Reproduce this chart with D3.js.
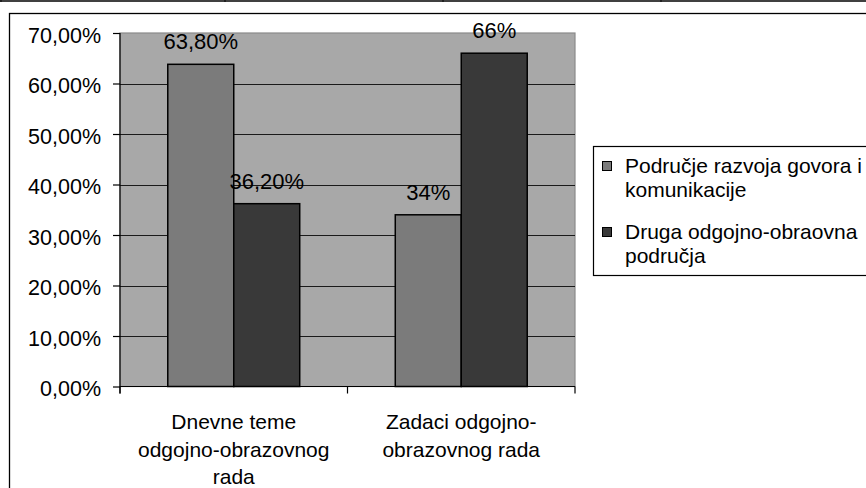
<!DOCTYPE html>
<html>
<head>
<meta charset="utf-8">
<script src="https://cdn.jsdelivr.net/npm/d3@7"></script>
<style>
  html, body { margin: 0; padding: 0; background: #fff; }
  svg { display: block; }
  text { font-family: "Liberation Sans", Arial, sans-serif; fill: #000; }
</style>
</head>
<body>
<svg id="chart" width="866" height="488"></svg>
<script>
// ---- data ----
const categories = [
  ["Dnevne teme", "odgojno-obrazovnog", "rada"],
  ["Zadaci odgojno-", "obrazovnog rada"]
];
const categoryKeys = ["Dnevne teme odgojno-obrazovnog rada", "Zadaci odgojno-obrazovnog rada"];
const seriesNames = ["Područje razvoja govora i komunikacije", "Druga odgojno-obraovna područja"];
const legendLines = [["Područje razvoja govora i", "komunikacije"], ["Druga odgojno-obraovna", "područja"]];
const seriesA = [63.8, 34];   // Područje razvoja govora i komunikacije
const seriesB = [36.2, 66];   // Druga odgojno-obraovna područja
const labelsA = ["63,80%", "34%"];
const labelsB = ["36,20%", "66%"];
const yTicks = [0, 10, 20, 30, 40, 50, 60, 70];
const yTickLabels = ["0,00%", "10,00%", "20,00%", "30,00%", "40,00%", "50,00%", "60,00%", "70,00%"];
const colors = ["#7b7b7b", "#393939"];

const svg = d3.select("#chart");

// top table remnant
svg.append("line").attr("x1", 0).attr("x2", 866).attr("y1", 1).attr("y2", 1)
  .attr("stroke", "#000").attr("stroke-width", 1.5);
[1, 225, 443, 661].forEach(x => {
  svg.append("line").attr("x1", x).attr("x2", x).attr("y1", 0).attr("y2", 2)
    .attr("stroke", "#000").attr("stroke-width", 1);
});

// chart frame
svg.append("rect").attr("x", 9.5).attr("y", 13.5).attr("width", 900).attr("height", 500)
  .attr("fill", "#fff").attr("stroke", "#000").attr("stroke-width", 1.3);

const plot = { left: 120, top: 33, right: 575, bottom: 386.5 };

const y = d3.scaleLinear().domain([0, 70]).range([plot.bottom, plot.top]);
const x0 = d3.scaleBand().domain(categoryKeys).range([plot.left, plot.right]).padding(0);
const x1 = d3.scaleBand().domain(seriesNames)
  .range([x0.bandwidth() * 0.21, x0.bandwidth() * 0.79]).padding(0);

// plot background
svg.append("rect").attr("x", plot.left).attr("y", plot.top)
  .attr("width", plot.right - plot.left).attr("height", plot.bottom - plot.top)
  .attr("fill", "#a8a8a8").attr("stroke", "#8a8a8a").attr("stroke-width", 1.2);

// gridlines
svg.append("g").selectAll("line").data(yTicks.filter(t => t > 0 && t < 70)).join("line")
  .attr("x1", plot.left).attr("x2", plot.right)
  .attr("y1", d => Math.round(y(d)) + 0.5).attr("y2", d => Math.round(y(d)) + 0.5)
  .attr("stroke", "#1a1a1a").attr("stroke-width", 1);

// bars
const rows = categoryKeys.map((c, i) => ({ c, vals: [seriesA[i], seriesB[i]], labs: [labelsA[i], labelsB[i]] }));
const groups = svg.append("g").selectAll("g").data(rows).join("g")
  .attr("transform", d => `translate(${x0(d.c)},0)`);
groups.selectAll("rect").data(d => d.vals.map((v, j) => ({ v, s: seriesNames[j], j })))
  .join("rect")
  .attr("x", d => x1(d.s))
  .attr("y", d => y(d.v))
  .attr("width", x1.bandwidth())
  .attr("height", d => y(0) - y(d.v))
  .attr("fill", d => colors[d.j])
  .attr("stroke", "#000").attr("stroke-width", 1.5);

// data labels
groups.selectAll("text").data(d => d.vals.map((v, j) => ({ v, s: seriesNames[j], lab: d.labs[j] })))
  .join("text")
  .attr("x", d => x1(d.s) + x1.bandwidth() / 2)
  .attr("y", d => y(d.v) - 15)
  .attr("text-anchor", "middle")
  .attr("font-size", 22)
  .text(d => d.lab);

// y axis
const yAxis = d3.axisLeft(y).tickValues(yTicks).tickSize(7).tickPadding(12)
  .tickFormat((d, i) => yTickLabels[i]);
const gy = svg.append("g").attr("transform", `translate(${plot.left},0)`).call(yAxis);
gy.select(".domain").remove();
gy.selectAll(".tick line").attr("stroke", "#000").attr("stroke-width", 1.2);
gy.selectAll(".tick text").attr("font-size", 21.5).attr("font-family", "Liberation Sans, Arial, sans-serif")
  .attr("fill", "#000").attr("dy", "0.44em");
svg.append("line").attr("x1", plot.left).attr("x2", plot.left).attr("y1", plot.top).attr("y2", plot.bottom + 7)
  .attr("stroke", "#000").attr("stroke-width", 1.2);

// x axis
svg.append("line").attr("x1", plot.left).attr("x2", plot.right).attr("y1", plot.bottom).attr("y2", plot.bottom)
  .attr("stroke", "#000").attr("stroke-width", 1.2);
const boundaries = [plot.left, x0(categoryKeys[1]), plot.right];
svg.append("g").selectAll("line").data(boundaries).join("line")
  .attr("x1", d => d).attr("x2", d => d).attr("y1", plot.bottom).attr("y2", plot.bottom + 7)
  .attr("stroke", "#000").attr("stroke-width", 1.2);

// category labels
const catG = svg.append("g").selectAll("text").data(categoryKeys).join("text")
  .attr("text-anchor", "middle").attr("font-size", 21);
catG.each(function (d, i) {
  const t = d3.select(this);
  categories[i].forEach((line, k) => {
    t.append("tspan").attr("x", x0(d) + x0.bandwidth() / 2).attr("y", 429 + k * 27.5).text(line);
  });
});

// legend
svg.append("rect").attr("x", 593.5).attr("y", 146.5).attr("width", 300).attr("height", 129)
  .attr("fill", "#fff").attr("stroke", "#000").attr("stroke-width", 1.2);
const legendTop = [161, 227];
seriesNames.forEach((s, i) => {
  svg.append("rect").attr("x", 602.5).attr("y", legendTop[i] + 0.5).attr("width", 9).attr("height", 9)
    .attr("fill", colors[i]).attr("stroke", "#000").attr("stroke-width", 1);
  const t = svg.append("text").attr("font-size", 21);
  legendLines[i].forEach((line, k) => {
    t.append("tspan").attr("x", 625).attr("y", legendTop[i] + 12 + k * 24).text(line);
  });
});
</script>
</body>
</html>
